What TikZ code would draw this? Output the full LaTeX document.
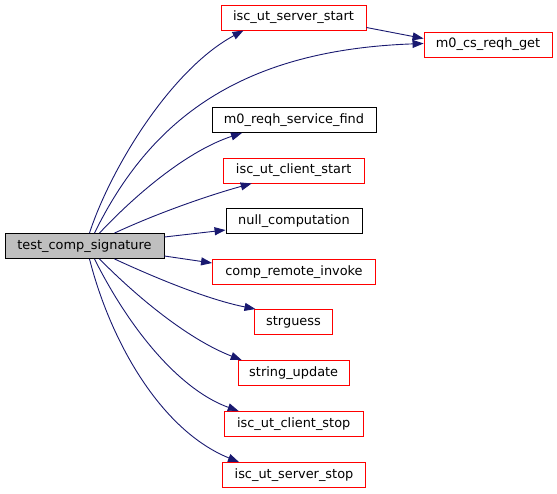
\documentclass[tikz,border=0pt]{standalone}
\usepackage{fontspec}
\setmainfont{DejaVu Sans}
\usetikzlibrary{arrows.meta}
\definecolor{edgec}{HTML}{191970}
\definecolor{rootfill}{HTML}{BFBFBF}
\tikzset{
  fn/.style={draw=red, line width=0.9pt, fill=white, minimum height=25pt, inner xsep=4pt, font=\fontsize{12.9}{14}\selectfont, anchor=center},
  fnb/.style={fn, draw=black},
  rootbox/.style={fn, draw=black, fill=rootfill},
  call/.style={draw=edgec, line width=0.9pt, -{Triangle[length=11pt,width=8pt]}},
}
\begin{document}
\begin{tikzpicture}[x=1pt,y=-1pt]
\useasboundingbox (0,0) rectangle (557,493);
\node[rootbox, minimum width=159pt] (root) at (84.5,246) {test\_comp\_signature};
\node[fn, minimum width=145pt] (sst) at (293.5,17.5) {isc\_ut\_server\_start};
\node[fn, minimum width=128pt] (get) at (488,44.5) {m0\_cs\_reqh\_get};
\node[fnb, minimum width=164pt] (find) at (294,120) {m0\_reqh\_service\_find};
\node[fn, minimum width=141pt] (cst) at (293.7,170.5) {isc\_ut\_client\_start};
\node[fnb, minimum width=136pt] (nul) at (294,221) {null\_computation};
\node[fn, minimum width=163pt] (cri) at (294,272) {comp\_remote\_invoke};
\node[fn, minimum width=78pt] (sg) at (293.5,322) {strguess};
\node[fn, minimum width=111pt] (su) at (293.7,373) {string\_update};
\node[fn, minimum width=139pt] (csp) at (293.7,424) {isc\_ut\_client\_stop};
\node[fn, minimum width=143pt] (ssp) at (294,475) {isc\_ut\_server\_stop};

\draw[call] ([xshift=5pt]root.north) .. controls (110,170) and (170,70) .. ([xshift=-50pt]sst.south);
\draw[call] ([xshift=10pt]root.north) .. controls (150,120) and (240,50) .. ([yshift=1pt]get.west);
\draw[call] ([yshift=-10pt]sst.east) -- ([yshift=6pt]get.west);
\draw[call] ([xshift=15pt]root.north) .. controls (140,190) and (190,150) .. ([xshift=-52pt]find.south);
\draw[call] ([xshift=30pt]root.north) .. controls (160,212) and (210,195) .. ([xshift=-42pt]cst.south);
\draw[call] ([yshift=9pt]root.east) -- ([yshift=-9pt]nul.west);
\draw[call] ([yshift=-10pt]root.east) -- ([yshift=9pt]cri.west);
\draw[call] ([xshift=30pt]root.south) .. controls (160,280) and (210,300) .. ([xshift=-38pt]sg.north);
\draw[call] ([xshift=15pt]root.south) .. controls (140,300) and (190,340) .. ([xshift=-52pt]su.north);
\draw[call] ([xshift=10pt]root.south) .. controls (130,330) and (180,390) .. ([xshift=-55pt]csp.north);
\draw[call] ([xshift=5pt]root.south) .. controls (110,340) and (160,430) .. ([xshift=-55pt]ssp.north);
\end{tikzpicture}
\end{document}
